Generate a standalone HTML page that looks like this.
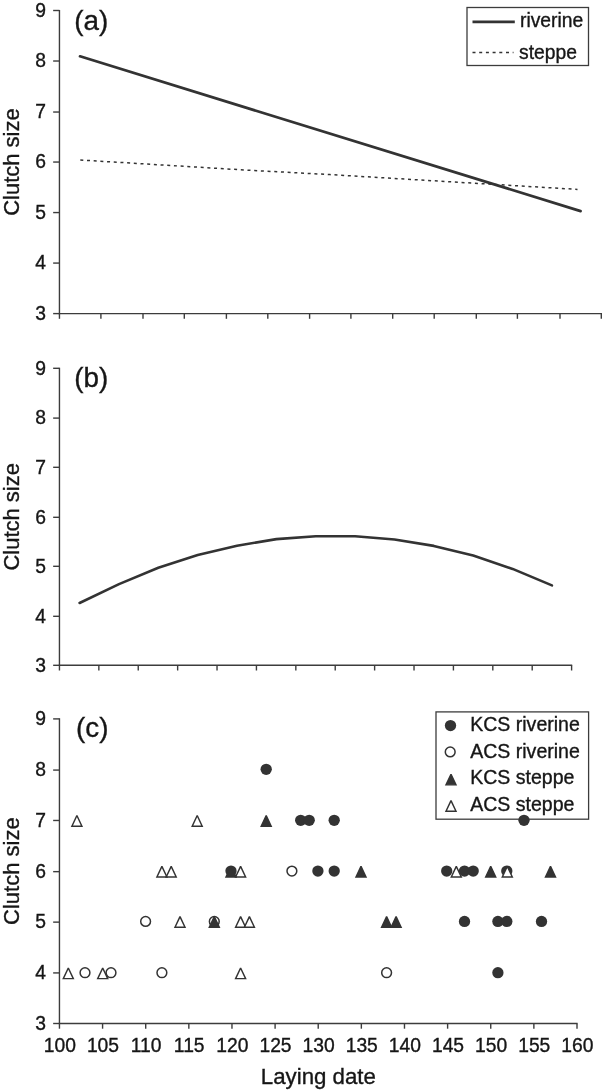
<!DOCTYPE html>
<html><head><meta charset="utf-8"><title>Clutch size vs laying date</title>
<style>
html,body{margin:0;padding:0;background:#fff;}
body{width:602px;height:1090px;overflow:hidden;font-family:"Liberation Sans",sans-serif;}
svg{display:block;will-change:transform;}
svg text{font-family:"Liberation Sans",sans-serif;stroke:#161616;stroke-width:0.35px;}
</style></head><body>
<svg width="602" height="1090" viewBox="0 0 602 1090">
<rect x="0" y="0" width="602" height="1090" fill="#ffffff"/>
<line x1="59.45" y1="9.90" x2="59.45" y2="314.20" stroke="#3c3c3c" stroke-width="1.4"/>
<line x1="53.15" y1="10.50" x2="59.45" y2="10.50" stroke="#3c3c3c" stroke-width="1.4"/>
<text x="46.0" y="16.71" text-anchor="end" font-size="19.3" fill="#161616">9</text>
<line x1="53.15" y1="61.02" x2="59.45" y2="61.02" stroke="#3c3c3c" stroke-width="1.4"/>
<text x="46.0" y="67.23" text-anchor="end" font-size="19.3" fill="#161616">8</text>
<line x1="53.15" y1="112.03" x2="59.45" y2="112.03" stroke="#3c3c3c" stroke-width="1.4"/>
<text x="46.0" y="118.24" text-anchor="end" font-size="19.3" fill="#161616">7</text>
<line x1="53.15" y1="162.05" x2="59.45" y2="162.05" stroke="#3c3c3c" stroke-width="1.4"/>
<text x="46.0" y="168.26" text-anchor="end" font-size="19.3" fill="#161616">6</text>
<line x1="53.15" y1="212.57" x2="59.45" y2="212.57" stroke="#3c3c3c" stroke-width="1.4"/>
<text x="46.0" y="218.78" text-anchor="end" font-size="19.3" fill="#161616">5</text>
<line x1="53.15" y1="263.08" x2="59.45" y2="263.08" stroke="#3c3c3c" stroke-width="1.4"/>
<text x="46.0" y="269.29" text-anchor="end" font-size="19.3" fill="#161616">4</text>
<line x1="53.15" y1="313.60" x2="59.45" y2="313.60" stroke="#3c3c3c" stroke-width="1.4"/>
<text x="46.0" y="319.81" text-anchor="end" font-size="19.3" fill="#161616">3</text>
<line x1="58.85" y1="313.60" x2="603.10" y2="313.60" stroke="#3c3c3c" stroke-width="1.4"/>
<line x1="59.45" y1="313.60" x2="59.45" y2="318.80" stroke="#3c3c3c" stroke-width="1.4"/>
<line x1="100.90" y1="313.60" x2="100.90" y2="318.80" stroke="#3c3c3c" stroke-width="1.4"/>
<line x1="143.00" y1="313.60" x2="143.00" y2="318.80" stroke="#3c3c3c" stroke-width="1.4"/>
<line x1="184.30" y1="313.60" x2="184.30" y2="318.80" stroke="#3c3c3c" stroke-width="1.4"/>
<line x1="226.40" y1="313.60" x2="226.40" y2="318.80" stroke="#3c3c3c" stroke-width="1.4"/>
<line x1="267.80" y1="313.60" x2="267.80" y2="318.80" stroke="#3c3c3c" stroke-width="1.4"/>
<line x1="309.60" y1="313.60" x2="309.60" y2="318.80" stroke="#3c3c3c" stroke-width="1.4"/>
<line x1="350.90" y1="313.60" x2="350.90" y2="318.80" stroke="#3c3c3c" stroke-width="1.4"/>
<line x1="392.70" y1="313.60" x2="392.70" y2="318.80" stroke="#3c3c3c" stroke-width="1.4"/>
<line x1="434.20" y1="313.60" x2="434.20" y2="318.80" stroke="#3c3c3c" stroke-width="1.4"/>
<line x1="476.30" y1="313.60" x2="476.30" y2="318.80" stroke="#3c3c3c" stroke-width="1.4"/>
<line x1="517.40" y1="313.60" x2="517.40" y2="318.80" stroke="#3c3c3c" stroke-width="1.4"/>
<line x1="560.00" y1="313.60" x2="560.00" y2="318.80" stroke="#3c3c3c" stroke-width="1.4"/>
<line x1="601.30" y1="313.60" x2="601.30" y2="318.80" stroke="#3c3c3c" stroke-width="1.4"/>
<text transform="translate(18.6,162.05) rotate(-90)" text-anchor="middle" font-size="22" fill="#161616">Clutch size</text>
<text x="74.2" y="30" font-size="27.8" fill="#161616">(a)</text>
<line x1="80" y1="56.3" x2="580.6" y2="211.1" stroke="#333333" stroke-width="2.7" stroke-linecap="round"/>
<polyline points="80.3,160.0 246.4,170.1 330,174.6 577.5,189.4" fill="none" stroke="#333333" stroke-width="1.5" stroke-dasharray="3 3.7"/>
<rect x="467" y="7.5" width="121.5" height="58" fill="#fff" stroke="#3c3c3c" stroke-width="1.3"/>
<line x1="472.5" y1="21.9" x2="514.8" y2="21.9" stroke="#333333" stroke-width="2.7"/>
<line x1="472.5" y1="52.6" x2="513.5" y2="52.6" stroke="#333333" stroke-width="1.5" stroke-dasharray="3 3.7"/>
<text x="520.0" y="27" font-size="19.3" fill="#161616">riverine</text>
<text x="519.0" y="58.8" font-size="19.3" fill="#161616">steppe</text>
<line x1="59.45" y1="367.70" x2="59.45" y2="665.90" stroke="#3c3c3c" stroke-width="1.4"/>
<line x1="53.15" y1="368.30" x2="59.45" y2="368.30" stroke="#3c3c3c" stroke-width="1.4"/>
<text x="46.0" y="374.51" text-anchor="end" font-size="19.3" fill="#161616">9</text>
<line x1="53.15" y1="418.10" x2="59.45" y2="418.10" stroke="#3c3c3c" stroke-width="1.4"/>
<text x="46.0" y="424.31" text-anchor="end" font-size="19.3" fill="#161616">8</text>
<line x1="53.15" y1="467.30" x2="59.45" y2="467.30" stroke="#3c3c3c" stroke-width="1.4"/>
<text x="46.0" y="473.51" text-anchor="end" font-size="19.3" fill="#161616">7</text>
<line x1="53.15" y1="517.30" x2="59.45" y2="517.30" stroke="#3c3c3c" stroke-width="1.4"/>
<text x="46.0" y="523.51" text-anchor="end" font-size="19.3" fill="#161616">6</text>
<line x1="53.15" y1="566.30" x2="59.45" y2="566.30" stroke="#3c3c3c" stroke-width="1.4"/>
<text x="46.0" y="572.51" text-anchor="end" font-size="19.3" fill="#161616">5</text>
<line x1="53.15" y1="616.30" x2="59.45" y2="616.30" stroke="#3c3c3c" stroke-width="1.4"/>
<text x="46.0" y="622.51" text-anchor="end" font-size="19.3" fill="#161616">4</text>
<line x1="53.15" y1="665.30" x2="59.45" y2="665.30" stroke="#3c3c3c" stroke-width="1.4"/>
<text x="46.0" y="671.51" text-anchor="end" font-size="19.3" fill="#161616">3</text>
<line x1="58.85" y1="665.30" x2="572.20" y2="665.30" stroke="#3c3c3c" stroke-width="1.4"/>
<line x1="59.45" y1="665.30" x2="59.45" y2="670.50" stroke="#3c3c3c" stroke-width="1.4"/>
<line x1="98.85" y1="665.30" x2="98.85" y2="670.50" stroke="#3c3c3c" stroke-width="1.4"/>
<line x1="138.24" y1="665.30" x2="138.24" y2="670.50" stroke="#3c3c3c" stroke-width="1.4"/>
<line x1="177.64" y1="665.30" x2="177.64" y2="670.50" stroke="#3c3c3c" stroke-width="1.4"/>
<line x1="217.03" y1="665.30" x2="217.03" y2="670.50" stroke="#3c3c3c" stroke-width="1.4"/>
<line x1="256.43" y1="665.30" x2="256.43" y2="670.50" stroke="#3c3c3c" stroke-width="1.4"/>
<line x1="295.83" y1="665.30" x2="295.83" y2="670.50" stroke="#3c3c3c" stroke-width="1.4"/>
<line x1="335.22" y1="665.30" x2="335.22" y2="670.50" stroke="#3c3c3c" stroke-width="1.4"/>
<line x1="374.62" y1="665.30" x2="374.62" y2="670.50" stroke="#3c3c3c" stroke-width="1.4"/>
<line x1="414.02" y1="665.30" x2="414.02" y2="670.50" stroke="#3c3c3c" stroke-width="1.4"/>
<line x1="453.41" y1="665.30" x2="453.41" y2="670.50" stroke="#3c3c3c" stroke-width="1.4"/>
<line x1="492.81" y1="665.30" x2="492.81" y2="670.50" stroke="#3c3c3c" stroke-width="1.4"/>
<line x1="532.20" y1="665.30" x2="532.20" y2="670.50" stroke="#3c3c3c" stroke-width="1.4"/>
<line x1="571.60" y1="665.30" x2="571.60" y2="670.50" stroke="#3c3c3c" stroke-width="1.4"/>
<text transform="translate(18.6,516.80) rotate(-90)" text-anchor="middle" font-size="22" fill="#161616">Clutch size</text>
<text x="74.2" y="386.5" font-size="27.8" fill="#161616">(b)</text>
<polyline points="79.6,603.0 119.0,584.1 158.3,567.8 197.7,554.9 237.0,545.7 276.4,539.1 315.8,536.2 355.1,536.2 394.5,539.5 433.8,545.9 473.2,555.5 512.6,568.9 551.9,585.4" fill="none" stroke="#333333" stroke-width="2.6" stroke-linecap="round" stroke-linejoin="round"/>
<line x1="59.45" y1="718.20" x2="59.45" y2="1024.10" stroke="#3c3c3c" stroke-width="1.4"/>
<line x1="53.15" y1="718.90" x2="59.45" y2="718.90" stroke="#3c3c3c" stroke-width="1.4"/>
<text x="46.0" y="725.11" text-anchor="end" font-size="19.3" fill="#161616">9</text>
<line x1="53.15" y1="770.08" x2="59.45" y2="770.08" stroke="#3c3c3c" stroke-width="1.4"/>
<text x="46.0" y="776.29" text-anchor="end" font-size="19.3" fill="#161616">8</text>
<line x1="53.15" y1="820.47" x2="59.45" y2="820.47" stroke="#3c3c3c" stroke-width="1.4"/>
<text x="46.0" y="826.68" text-anchor="end" font-size="19.3" fill="#161616">7</text>
<line x1="53.15" y1="871.65" x2="59.45" y2="871.65" stroke="#3c3c3c" stroke-width="1.4"/>
<text x="46.0" y="877.86" text-anchor="end" font-size="19.3" fill="#161616">6</text>
<line x1="53.15" y1="922.13" x2="59.45" y2="922.13" stroke="#3c3c3c" stroke-width="1.4"/>
<text x="46.0" y="928.34" text-anchor="end" font-size="19.3" fill="#161616">5</text>
<line x1="53.15" y1="972.92" x2="59.45" y2="972.92" stroke="#3c3c3c" stroke-width="1.4"/>
<text x="46.0" y="979.13" text-anchor="end" font-size="19.3" fill="#161616">4</text>
<line x1="53.15" y1="1023.50" x2="59.45" y2="1023.50" stroke="#3c3c3c" stroke-width="1.4"/>
<text x="46.0" y="1029.71" text-anchor="end" font-size="19.3" fill="#161616">3</text>
<line x1="58.85" y1="1023.50" x2="577.60" y2="1023.50" stroke="#3c3c3c" stroke-width="1.4"/>
<line x1="59.45" y1="1023.50" x2="59.45" y2="1028.70" stroke="#3c3c3c" stroke-width="1.4"/>
<text x="59.85" y="1051.5" text-anchor="middle" font-size="19.3" fill="#161616">100</text>
<line x1="102.58" y1="1023.50" x2="102.58" y2="1028.70" stroke="#3c3c3c" stroke-width="1.4"/>
<text x="102.98" y="1051.5" text-anchor="middle" font-size="19.3" fill="#161616">105</text>
<line x1="145.71" y1="1023.50" x2="145.71" y2="1028.70" stroke="#3c3c3c" stroke-width="1.4"/>
<text x="146.11" y="1051.5" text-anchor="middle" font-size="19.3" fill="#161616">110</text>
<line x1="188.84" y1="1023.50" x2="188.84" y2="1028.70" stroke="#3c3c3c" stroke-width="1.4"/>
<text x="189.24" y="1051.5" text-anchor="middle" font-size="19.3" fill="#161616">115</text>
<line x1="231.97" y1="1023.50" x2="231.97" y2="1028.70" stroke="#3c3c3c" stroke-width="1.4"/>
<text x="232.37" y="1051.5" text-anchor="middle" font-size="19.3" fill="#161616">120</text>
<line x1="275.10" y1="1023.50" x2="275.10" y2="1028.70" stroke="#3c3c3c" stroke-width="1.4"/>
<text x="275.50" y="1051.5" text-anchor="middle" font-size="19.3" fill="#161616">125</text>
<line x1="318.22" y1="1023.50" x2="318.22" y2="1028.70" stroke="#3c3c3c" stroke-width="1.4"/>
<text x="318.62" y="1051.5" text-anchor="middle" font-size="19.3" fill="#161616">130</text>
<line x1="361.35" y1="1023.50" x2="361.35" y2="1028.70" stroke="#3c3c3c" stroke-width="1.4"/>
<text x="361.75" y="1051.5" text-anchor="middle" font-size="19.3" fill="#161616">135</text>
<line x1="404.48" y1="1023.50" x2="404.48" y2="1028.70" stroke="#3c3c3c" stroke-width="1.4"/>
<text x="404.88" y="1051.5" text-anchor="middle" font-size="19.3" fill="#161616">140</text>
<line x1="447.61" y1="1023.50" x2="447.61" y2="1028.70" stroke="#3c3c3c" stroke-width="1.4"/>
<text x="448.01" y="1051.5" text-anchor="middle" font-size="19.3" fill="#161616">145</text>
<line x1="490.74" y1="1023.50" x2="490.74" y2="1028.70" stroke="#3c3c3c" stroke-width="1.4"/>
<text x="491.14" y="1051.5" text-anchor="middle" font-size="19.3" fill="#161616">150</text>
<line x1="533.87" y1="1023.50" x2="533.87" y2="1028.70" stroke="#3c3c3c" stroke-width="1.4"/>
<text x="534.27" y="1051.5" text-anchor="middle" font-size="19.3" fill="#161616">155</text>
<line x1="577.00" y1="1023.50" x2="577.00" y2="1028.70" stroke="#3c3c3c" stroke-width="1.4"/>
<text x="577.40" y="1051.5" text-anchor="middle" font-size="19.3" fill="#161616">160</text>
<text transform="translate(18.6,871.15) rotate(-90)" text-anchor="middle" font-size="22" fill="#161616">Clutch size</text>
<text x="76.0" y="737" font-size="27.8" fill="#161616">(c)</text>
<text x="318.4" y="1084.0" text-anchor="middle" font-size="22.25" fill="#161616">Laying date</text>
<rect x="436" y="711.9" width="152.6" height="107.3" fill="#fff" stroke="#3c3c3c" stroke-width="1.3"/>
<circle cx="450.50" cy="725.60" r="5.65" fill="#333333"/>
<circle cx="450.20" cy="751.90" r="4.9" fill="#fff" stroke="#333333" stroke-width="1.5"/>
<path d="M451.00,774.20 L456.00,784.85 L446.00,784.85 Z" fill="#333333" stroke="#333333" stroke-width="1.45" stroke-linejoin="miter" stroke-miterlimit="2"/>
<path d="M451.00,800.60 L456.00,811.25 L446.00,811.25 Z" fill="#fff" stroke="#333333" stroke-width="1.45" stroke-linejoin="miter" stroke-miterlimit="2"/>
<text x="470.2" y="731.4" font-size="19.55" fill="#161616">KCS riverine</text>
<text x="470.2" y="757.9" font-size="19.55" fill="#161616">ACS riverine</text>
<text x="470.2" y="784.4" font-size="19.55" fill="#161616">KCS steppe</text>
<text x="470.2" y="811.0" font-size="19.55" fill="#161616">ACS steppe</text>
<circle cx="266.20" cy="769.30" r="5.65" fill="#333333"/>
<circle cx="300.70" cy="820.30" r="5.65" fill="#333333"/>
<circle cx="309.20" cy="820.30" r="5.65" fill="#333333"/>
<circle cx="334.20" cy="820.30" r="5.65" fill="#333333"/>
<circle cx="524.00" cy="820.30" r="5.65" fill="#333333"/>
<circle cx="231.00" cy="871.10" r="5.65" fill="#333333"/>
<circle cx="317.90" cy="871.10" r="5.65" fill="#333333"/>
<circle cx="334.20" cy="871.10" r="5.65" fill="#333333"/>
<circle cx="446.70" cy="871.10" r="5.65" fill="#333333"/>
<circle cx="464.50" cy="871.10" r="5.65" fill="#333333"/>
<circle cx="473.20" cy="871.10" r="5.65" fill="#333333"/>
<circle cx="506.80" cy="871.10" r="5.65" fill="#333333"/>
<circle cx="464.50" cy="921.40" r="5.65" fill="#333333"/>
<circle cx="497.90" cy="921.40" r="5.65" fill="#333333"/>
<circle cx="506.80" cy="921.40" r="5.65" fill="#333333"/>
<circle cx="541.50" cy="921.40" r="5.65" fill="#333333"/>
<circle cx="497.90" cy="972.70" r="5.65" fill="#333333"/>
<circle cx="291.90" cy="871.10" r="4.9" fill="#fff" stroke="#333333" stroke-width="1.5"/>
<circle cx="145.60" cy="921.40" r="4.9" fill="#fff" stroke="#333333" stroke-width="1.5"/>
<circle cx="214.30" cy="921.40" r="4.9" fill="#fff" stroke="#333333" stroke-width="1.5"/>
<circle cx="85.00" cy="972.70" r="4.9" fill="#fff" stroke="#333333" stroke-width="1.5"/>
<circle cx="111.00" cy="972.70" r="4.9" fill="#fff" stroke="#333333" stroke-width="1.5"/>
<circle cx="161.90" cy="972.70" r="4.9" fill="#fff" stroke="#333333" stroke-width="1.5"/>
<circle cx="386.60" cy="972.70" r="4.9" fill="#fff" stroke="#333333" stroke-width="1.5"/>
<path d="M266.20,815.55 L271.20,826.20 L261.20,826.20 Z" fill="#333333" stroke="#333333" stroke-width="1.45" stroke-linejoin="miter" stroke-miterlimit="2"/>
<path d="M231.00,866.35 L236.00,877.00 L226.00,877.00 Z" fill="#333333" stroke="#333333" stroke-width="1.45" stroke-linejoin="miter" stroke-miterlimit="2"/>
<path d="M361.00,866.35 L366.00,877.00 L356.00,877.00 Z" fill="#333333" stroke="#333333" stroke-width="1.45" stroke-linejoin="miter" stroke-miterlimit="2"/>
<path d="M490.70,866.35 L495.70,877.00 L485.70,877.00 Z" fill="#333333" stroke="#333333" stroke-width="1.45" stroke-linejoin="miter" stroke-miterlimit="2"/>
<path d="M550.50,866.35 L555.50,877.00 L545.50,877.00 Z" fill="#333333" stroke="#333333" stroke-width="1.45" stroke-linejoin="miter" stroke-miterlimit="2"/>
<path d="M214.30,916.65 L219.30,927.30 L209.30,927.30 Z" fill="#333333" stroke="#333333" stroke-width="1.45" stroke-linejoin="miter" stroke-miterlimit="2"/>
<path d="M386.60,916.65 L391.60,927.30 L381.60,927.30 Z" fill="#333333" stroke="#333333" stroke-width="1.45" stroke-linejoin="miter" stroke-miterlimit="2"/>
<path d="M396.10,916.65 L401.10,927.30 L391.10,927.30 Z" fill="#333333" stroke="#333333" stroke-width="1.45" stroke-linejoin="miter" stroke-miterlimit="2"/>
<path d="M76.90,815.55 L81.90,826.20 L71.90,826.20 Z" fill="#fff" stroke="#333333" stroke-width="1.45" stroke-linejoin="miter" stroke-miterlimit="2"/>
<path d="M197.20,815.55 L202.20,826.20 L192.20,826.20 Z" fill="#fff" stroke="#333333" stroke-width="1.45" stroke-linejoin="miter" stroke-miterlimit="2"/>
<path d="M161.90,866.35 L166.90,877.00 L156.90,877.00 Z" fill="#fff" stroke="#333333" stroke-width="1.45" stroke-linejoin="miter" stroke-miterlimit="2"/>
<path d="M171.20,866.35 L176.20,877.00 L166.20,877.00 Z" fill="#fff" stroke="#333333" stroke-width="1.45" stroke-linejoin="miter" stroke-miterlimit="2"/>
<path d="M240.60,866.35 L245.60,877.00 L235.60,877.00 Z" fill="#fff" stroke="#333333" stroke-width="1.45" stroke-linejoin="miter" stroke-miterlimit="2"/>
<path d="M456.30,866.35 L461.30,877.00 L451.30,877.00 Z" fill="#fff" stroke="#333333" stroke-width="1.45" stroke-linejoin="miter" stroke-miterlimit="2"/>
<path d="M507.30,866.35 L512.30,877.00 L502.30,877.00 Z" fill="#fff" stroke="#333333" stroke-width="1.45" stroke-linejoin="miter" stroke-miterlimit="2"/>
<path d="M180.00,916.65 L185.00,927.30 L175.00,927.30 Z" fill="#fff" stroke="#333333" stroke-width="1.45" stroke-linejoin="miter" stroke-miterlimit="2"/>
<path d="M240.60,916.65 L245.60,927.30 L235.60,927.30 Z" fill="#fff" stroke="#333333" stroke-width="1.45" stroke-linejoin="miter" stroke-miterlimit="2"/>
<path d="M249.40,916.65 L254.40,927.30 L244.40,927.30 Z" fill="#fff" stroke="#333333" stroke-width="1.45" stroke-linejoin="miter" stroke-miterlimit="2"/>
<path d="M68.30,967.95 L73.30,978.60 L63.30,978.60 Z" fill="#fff" stroke="#333333" stroke-width="1.45" stroke-linejoin="miter" stroke-miterlimit="2"/>
<path d="M102.70,967.95 L107.70,978.60 L97.70,978.60 Z" fill="#fff" stroke="#333333" stroke-width="1.45" stroke-linejoin="miter" stroke-miterlimit="2"/>
<path d="M240.60,967.95 L245.60,978.60 L235.60,978.60 Z" fill="#fff" stroke="#333333" stroke-width="1.45" stroke-linejoin="miter" stroke-miterlimit="2"/>
</svg>
</body></html>
